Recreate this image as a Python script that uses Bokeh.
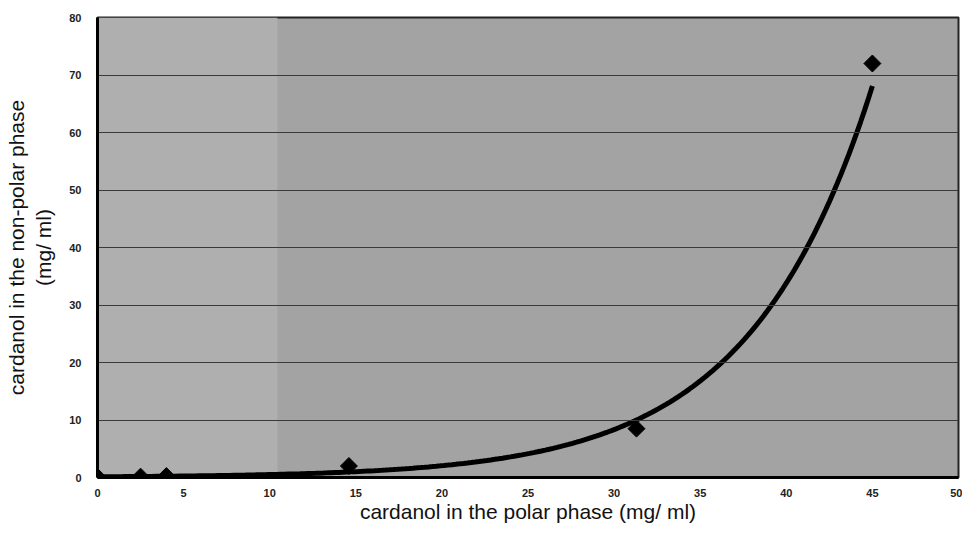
import numpy as np
from bokeh.plotting import figure
from bokeh.models import BoxAnnotation, FixedTicker, ColumnDataSource
from bokeh.embed import file_html
from bokeh.resources import INLINE

# data
polar_phase = [0.0, 2.5, 4.0, 14.6, 31.3, 45.0]          # mg/ml
nonpolar_phase = [0.1, 0.15, 0.25, 2.0, 8.5, 72.0]       # mg/ml
x_ticks = [0, 5, 10, 15, 20, 25, 30, 35, 40, 45, 50]
y_ticks = [0, 10, 20, 30, 40, 50, 60, 70, 80]

# exponential trendline y = A * exp(B * x) (as drawn in the chart)
TREND_A = 0.125
TREND_B = 0.14

p = figure(width=962, height=540, x_range=(0, 50), y_range=(0, 80),
           output_backend="svg", toolbar_location=None,
           min_border_left=97, min_border_right=4, min_border_top=17, min_border_bottom=63)

p.background_fill_color = "#a3a3a3"
p.border_fill_color = "white"
p.outline_line_color = "#222222"
p.outline_line_width = 2

# lighter scanned region at the left of the plot area
p.add_layout(BoxAnnotation(left=0, right=10.45, fill_color="#afafaf", fill_alpha=1.0,
                           line_alpha=0, level="underlay"))

p.xgrid.visible = False
p.ygrid.grid_line_color = "#3a3a3a"
p.ygrid.grid_line_width = 1.2
p.ygrid.level = "glyph"

p.xaxis.ticker = FixedTicker(ticks=x_ticks)
p.yaxis.ticker = FixedTicker(ticks=y_ticks)

for ax in (p.xaxis[0], p.yaxis[0]):
    ax.axis_line_color = "black"
    ax.axis_line_width = 3
    ax.major_tick_line_color = None
    ax.minor_tick_line_color = None
    ax.major_label_text_font = "Liberation Sans"
    ax.major_label_text_font_size = "11px"
    ax.major_label_text_font_style = "bold"
    ax.major_label_text_color = "#222222"
    ax.axis_label_text_font = "Liberation Sans"
    ax.axis_label_text_font_size = "21px"
    ax.axis_label_text_font_style = "normal"
    ax.axis_label_text_color = "#111111"

p.xaxis.major_label_standoff = 5
p.yaxis.major_label_standoff = 10
p.xaxis.axis_label = "cardanol in the polar phase (mg/ ml)"
p.xaxis.axis_label_standoff = 0
p.yaxis.axis_label = "cardanol in the non-polar phase\n(mg/ ml)"
p.yaxis.axis_label_standoff = 11

# trendline
xs = np.linspace(0, max(polar_phase), 200)
ys = TREND_A * np.exp(TREND_B * xs)
p.line(xs, ys, line_color="black", line_width=5)

src = ColumnDataSource(dict(x=polar_phase, y=nonpolar_phase))
p.scatter("x", "y", source=src, marker="square", angle=np.pi / 4, size=12,
          fill_color="black", line_color="black")

open("out.html", "w").write(file_html(p, INLINE))
